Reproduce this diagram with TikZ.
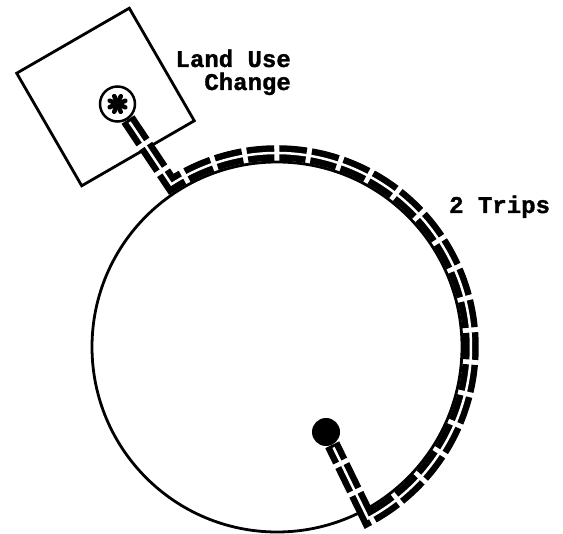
\documentclass[tikz,border=0pt]{standalone}
\usepackage{fontspec}
\newfontfamily\typew[FakeBold=1.3]{Liberation Mono Bold}
\usetikzlibrary{calc}
\begin{document}
\begin{tikzpicture}[x=1pt,y=1pt,
  outline/.style={draw, line width=2.8pt, inner sep=0pt},
  route/.style={line width=15.5pt, dash pattern=on 27pt off 5pt},
  routegap/.style={white, line width=2.5pt},
  spoke/.style={line width=4.5pt, line cap=round},
  lbl/.style={font=\typew\fontsize{24}{23}\selectfont, inner sep=0pt}]
\useasboundingbox[fill=white] (0,0) rectangle (563,-534);
\coordinate (O) at (277,-347);
\node[outline, circle, minimum size=370pt] (ring) at (O) {};
\node[outline, minimum size=130pt, rotate=30] (zone) at (105.5,-97) {};
\node[outline, circle, fill=white, line width=2.5pt, minimum size=35pt] (src) at (117.5,-104) {};
\foreach \a in {0,45,90,135}
  \draw[spoke] ($(src)+(\a+22:8.5)$) -- ($(src)+(\a+202:8.5)$);
\node[circle, fill=black, minimum size=28pt, inner sep=0pt] (dst) at (326,-432) {};
\coordinate (c1) at ($(O)+(123:194)$);
\coordinate (c2) at ($(O)+(-62:194)$);
\draw[route] (src) -- (c1) arc[start angle=123, end angle=-62, radius=194] -- (dst);
\draw[routegap, shorten <=3pt, shorten >=3pt] (src) -- (c1) arc[start angle=123, end angle=-62, radius=194] -- (dst);
\node[lbl, anchor=base east, align=right] (lu) at (291,-90) {Land Use\\Change};
\node[lbl, anchor=base west] (trips) at (449,-213) {2 Trips};
\end{tikzpicture}
\end{document}
